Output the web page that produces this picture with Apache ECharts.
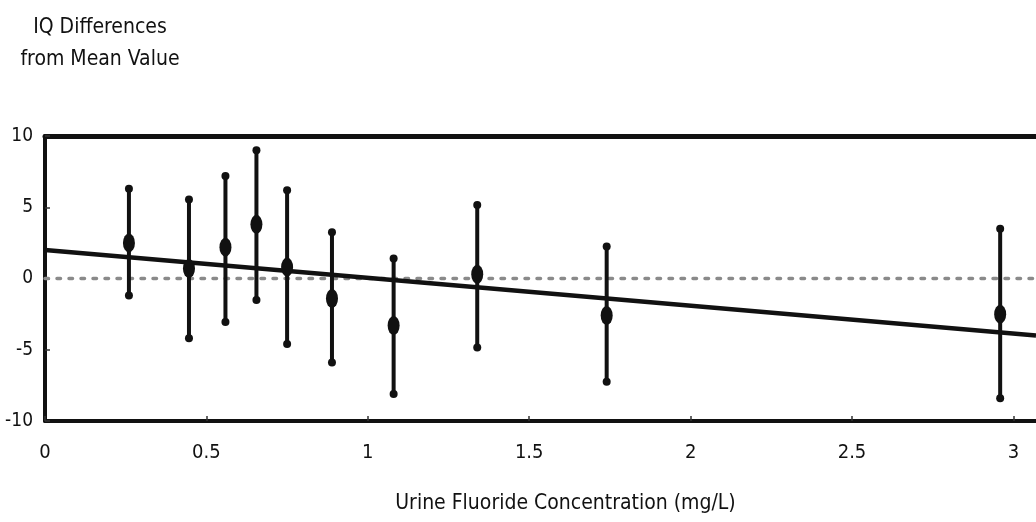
<!DOCTYPE html>
<html>
<head>
<meta charset="utf-8">
<script src="https://cdn.jsdelivr.net/npm/echarts@6/dist/echarts.min.js"></script>
<style>
html,body{margin:0;padding:0;background:#fff;}
#chart{width:1036px;height:522px;}
</style>
</head>
<body>
<div id="chart"></div>
<script>
// Urine fluoride concentration (mg/L) for each group
const fluoride = [0.26, 0.446, 0.559, 0.655, 0.75, 0.889, 1.08, 1.339, 1.74, 2.959];
// IQ difference from mean value (group mean)
const iqMean = [2.5, 0.7, 2.2, 3.8, 0.8, -1.4, -3.3, 0.3, -2.6, -2.5];
// upper and lower ends of error bars
const iqUpper = [6.3, 5.55, 7.2, 9.0, 6.2, 3.25, 1.4, 5.15, 2.25, 3.5];
const iqLower = [-1.2, -4.2, -3.05, -1.5, -4.6, -5.9, -8.1, -4.85, -7.25, -8.4];
// fitted regression line endpoints
const regX = [0, 3.07];
const regY = [2.0, -4.0];
// reference (mean) line
const refX = [0, 3.07];
const refY = [0, 0];
// ticks
const xTicks = [0, 0.5, 1, 1.5, 2, 2.5, 3];
const yTicks = [-10, -5, 0, 5, 10];

const FONT = '"Liberation Sans Narrow", "DejaVu Sans Condensed", "Liberation Sans", sans-serif';
const INK = '#111';

const chart = echarts.init(document.getElementById('chart'), null, {renderer: 'canvas'});

const barData = fluoride.map((x, i) => [x, iqLower[i], iqUpper[i]]);
const capData = [];
fluoride.forEach((x, i) => { capData.push([x, iqUpper[i]]); capData.push([x, iqLower[i]]); });

chart.setOption({
  animation: false,
  backgroundColor: '#fff',
  title: {
    text: 'IQ Differences\nfrom Mean Value',
    left: 95,
    top: 7,
    textAlign: 'center',
    textStyle: {fontFamily: FONT, fontSize: 21, fontWeight: 'normal', color: INK, lineHeight: 32}
  },
  grid: {left: 45, right: 0, top: 136, bottom: 101, containLabel: false},
  xAxis: [{
    type: 'value',
    min: 0, max: 3.07, interval: 0.5,
    position: 'bottom',
    axisLine: {show: true, onZero: false, lineStyle: {color: INK, width: 4}},
    axisTick: {show: true, inside: true, length: 5, lineStyle: {color: '#333', width: 1.5}},
    axisLabel: {
      fontFamily: FONT, fontSize: 20, color: INK, margin: 22,
      showMaxLabel: false,
      formatter: v => xTicks.includes(Math.round(v * 10) / 10) ? String(Math.round(v * 10) / 10) : ''
    },
    splitLine: {show: false},
    name: 'Urine Fluoride Concentration (mg/L)',
    nameLocation: 'middle',
    nameGap: 72,
    nameTextStyle: {fontFamily: FONT, fontSize: 21, color: INK, padding: [0, 0, 0, 50]}
  }, {
    type: 'value',
    min: 0, max: 3.07,
    position: 'top',
    axisLine: {show: true, onZero: false, lineStyle: {color: INK, width: 5}},
    axisTick: {show: false},
    axisLabel: {show: false},
    splitLine: {show: false}
  }],
  yAxis: {
    type: 'value',
    min: -10, max: 10, interval: 5,
    axisLine: {show: true, onZero: false, lineStyle: {color: INK, width: 4}},
    axisTick: {show: true, inside: true, length: 5, lineStyle: {color: '#333', width: 1.5}},
    axisLabel: {
      fontFamily: FONT, fontSize: 19, color: INK, margin: 12,
      formatter: v => yTicks.includes(v) ? String(v) : ''
    },
    splitLine: {show: false}
  },
  series: [
    {
      type: 'line',
      data: refX.map((x, i) => [x, refY[i]]),
      symbol: 'none',
      lineStyle: {color: '#8a8a8a', width: 3.5, type: [3.5, 8.5], cap: 'round'},
      z: 1
    },
    {
      type: 'line',
      data: regX.map((x, i) => [x, regY[i]]),
      symbol: 'none',
      lineStyle: {color: INK, width: 4.5},
      z: 2
    },
    {
      type: 'custom',
      data: barData,
      renderItem: function (params, api) {
        const top = api.coord([api.value(0), api.value(2)]);
        const bot = api.coord([api.value(0), api.value(1)]);
        return {
          type: 'line',
          shape: {x1: top[0], y1: top[1], x2: bot[0], y2: bot[1]},
          style: {stroke: INK, lineWidth: 4}
        };
      },
      z: 3
    },
    {
      type: 'scatter',
      data: capData,
      symbol: 'circle',
      symbolSize: 8,
      itemStyle: {color: INK, opacity: 1},
      z: 4
    },
    {
      type: 'scatter',
      data: fluoride.map((x, i) => [x, iqMean[i]]),
      symbol: 'circle',
      symbolSize: [12, 19],
      itemStyle: {color: INK, opacity: 1},
      z: 5
    }
  ]
});
</script>
</body>
</html>
